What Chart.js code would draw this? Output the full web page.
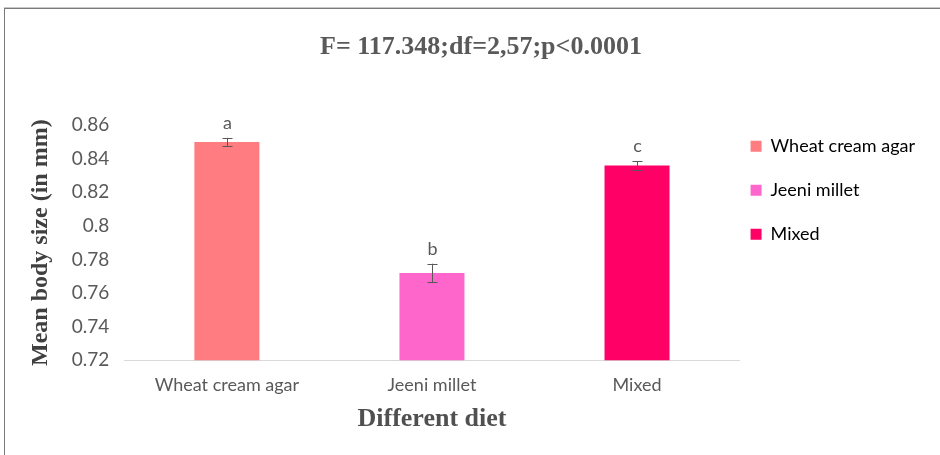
<!DOCTYPE html>
<html><head><meta charset="utf-8">
<script src="https://cdn.jsdelivr.net/npm/chart.js@4"></script>
<style>
html,body{margin:0;padding:0;background:#fff;overflow:hidden}
#wrap{position:absolute;left:0;top:0;width:940px;height:455px}
#frame{position:absolute;left:4px;top:8px;width:950px;height:460px;border:1px solid #7a7a7a;box-shadow:0 -1px 0 #c8c8c8}
canvas{position:absolute;left:0;top:0}
</style></head>
<body><div id="wrap"><div id="frame"></div><canvas id="c" width="940" height="455"></canvas></div>
<script>
const categories = ["Wheat cream agar", "Jeeni millet", "Mixed"];
const meanSize = [0.850, 0.772, 0.836];
const stdErr = [0.0025, 0.0055, 0.0027];
const letters = ["a", "b", "c"];
const barColors = ["#FF7C80", "#FF66CC", "#FF0066"];
const yTicks = [0.72, 0.74, 0.76, 0.78, 0.8, 0.82, 0.84, 0.86];
const titleText = "F= 117.348;df=2,57;p<0.0001";

const errPlugin = {
  id: 'err',
  afterLayout(chart) {
    const lg = chart.legend;
    if (lg) { lg.left -= 15; lg.right -= 15; lg.top -= 14; lg.bottom -= 14; }
  },
  afterDatasetsDraw(chart) {
    const ctx = chart.ctx, y = chart.scales.y;
    const meta = chart.getDatasetMeta(0);
    ctx.save();
    ctx.strokeStyle = '#595959'; ctx.lineWidth = 1;
    meta.data.forEach((bar, i) => {
      const x = Math.round(bar.x) + 0.5;
      const top = y.getPixelForValue(meanSize[i] + stdErr[i]);
      const bot = y.getPixelForValue(meanSize[i] - stdErr[i]);
      ctx.beginPath();
      ctx.moveTo(x, top); ctx.lineTo(x, bot);
      ctx.moveTo(x - 5, Math.round(top) + 0.5); ctx.lineTo(x + 5, Math.round(top) + 0.5);
      ctx.moveTo(x - 5, Math.round(bot) + 0.5); ctx.lineTo(x + 5, Math.round(bot) + 0.5);
      ctx.stroke();
      ctx.fillStyle = '#595959';
      ctx.font = '18px Lato';
      ctx.textAlign = 'center'; ctx.textBaseline = 'alphabetic';
      ctx.fillText(letters[i], x, top - 9);
    });
    ctx.restore();
  }
};

new Chart(document.getElementById('c'), {
  type: 'bar',
  data: {
    labels: categories,
    datasets: [{ data: meanSize, backgroundColor: barColors, categoryPercentage: 1, barPercentage: 0.317 }]
  },
  options: {
    responsive: false, animation: false, devicePixelRatio: 1,
    layout: { padding: { left: 22, right: 0, top: 20, bottom: 20 } },
    plugins: {
      tooltip: { enabled: false },
      title: { display: true, text: titleText, color: '#595959', font: { family: 'Liberation Serif', size: 26, weight: 'bold' }, padding: { top: 12, bottom: 62 } },
      legend: {
        position: 'right', align: 'start', fullSize: false,
        labels: {
          color: '#595959', font: { family: 'Lato', size: 18 }, boxWidth: 11, boxHeight: 11, padding: 26,
          generateLabels: (chart) => categories.map((c, i) => ({ text: c, fillStyle: barColors[i], strokeStyle: barColors[i], lineWidth: 0, index: i }))
        }
      }
    },
    scales: {
      x: {
        grid: { display: false, drawTicks: false },
        border: { display: true, color: '#d9d9d9' },
        ticks: { color: '#595959', font: { family: 'Lato', size: 18 }, padding: 14 },
        title: { display: true, text: 'Different diet', color: '#505050', font: { family: 'Liberation Serif', size: 26, weight: 'bold' }, padding: { top: -6, bottom: 0 } }
      },
      y: {
        min: 0.72, max: 0.86,
        afterBuildTicks: (ax) => { ax.ticks = yTicks.map(v => ({ value: v })); },
        grid: { display: false, drawTicks: false },
        border: { display: false },
        ticks: { color: '#595959', font: { family: 'Lato', size: 19 }, padding: 15, callback: (v) => String(Number(v.toFixed(2))) },
        title: { display: true, text: 'Mean body size (in mm)', color: '#404040', font: { family: 'Liberation Serif', size: 24, weight: 'bold' }, padding: { bottom: 2 } }
      }
    }
  },
  plugins: [errPlugin]
});
</script></body></html>
